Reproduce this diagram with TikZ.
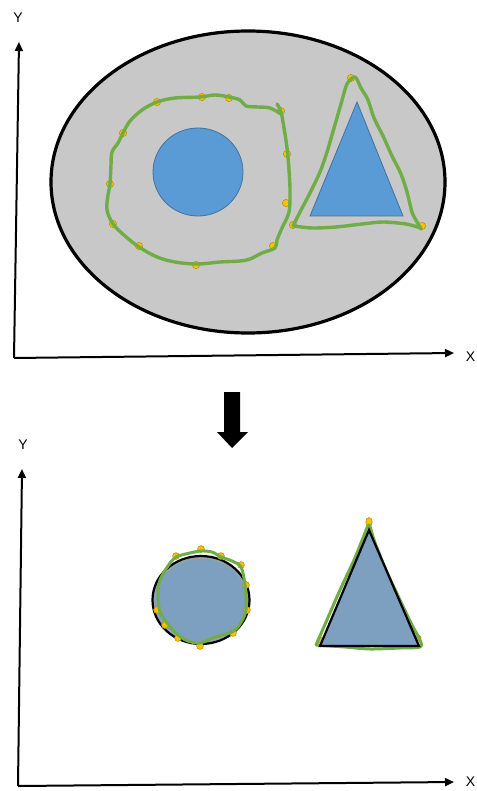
\documentclass[tikz,border=0pt]{standalone}
\usepackage{fontspec}
\setmainfont{Liberation Sans}
\usetikzlibrary{arrows.meta}
\definecolor{grayfill}{RGB}{200,200,200}
\definecolor{bluefill}{RGB}{91,155,213}
\definecolor{blueedge}{RGB}{65,113,156}
\definecolor{steel}{RGB}{125,160,192}
\definecolor{greenline}{RGB}{112,173,71}
\definecolor{dotfill}{RGB}{255,192,0}
\definecolor{dotedge}{RGB}{191,144,0}
\tikzset{
  axis/.style={line width=2pt,-{Triangle[length=9pt,width=8pt]}},
  axlabel/.style={font=\fontsize{14}{15}\selectfont,inner sep=0pt},
  wobble/.style={greenline,line width=3.4pt,line join=round,line cap=round},
  dot/.style={fill=dotfill,draw=dotedge,line width=0.6pt},
}
\begin{document}
\begin{tikzpicture}[x=1pt,y=-1pt]
\useasboundingbox (0,0) rectangle (476,791);
% ---------- top panel ----------
\coordinate (o1) at (14,358);
\coordinate (yt1) at (19,42);
\coordinate (xt1) at (454,353);
\draw[axis] (o1) -- (yt1);
\draw[axis] (o1) -- (xt1);
\node[axlabel] (Y1) at (18,18) {Y};
\node[axlabel,anchor=east] (X1) at (475.5,357) {X};
\draw[fill=grayfill,line width=3.2pt] (248,182) ellipse [x radius=197, y radius=151];
\draw[fill=bluefill,draw=blueedge,line width=0.8pt] (198,172) ellipse [x radius=45, y radius=44];
\draw[fill=bluefill,draw=blueedge,line width=0.8pt] (357,102) -- (403,216) -- (310,216) -- cycle;
% dots top circle loop
\foreach \p in {(157,102),(202,97),(229,98),(281,111),(287,154),(286,203),(273,246),(196,265),(139,246),(113,224),(110,184),(123,133)}
  \draw[dot] \p circle (3.6);
\foreach \p in {(351,78),(422,226),(293,225)}
  \draw[dot] \p circle (3.6);
\draw[wobble] plot[smooth, tension=0.55] coordinates {
 (277,104) (281,112) (284,128) (287,148) (289,170) (290,190) (289,212)
 (282,228) (277,240) (275,248) (262,253) (250,259) (240,261) (220,262)
 (197,264) (175,262) (157,257) (139,247) (125,236) (113,224) (107,210)
 (108,195) (110,184) (111,165) (112,152) (118,143) (123,133) (130,121)
 (142,110) (157,102) (175,98) (200,97) (215,95) (229,97) (240,100)
 (246,106) (258,107) (270,108) (281,114)};
\draw[wobble] plot[smooth, tension=0.5] coordinates {
 (293,226) (300,212) (310,193) (320,172) (327,152) (334,128) (341,104)
 (347,84) (355,77) (361,88) (368,100) (374,118) (383,136) (392,156)
 (401,174) (407,192) (412,212) (417,222) (421,229)};
\draw[wobble] plot[smooth, tension=0.5] coordinates {
 (421,228) (406,224) (383,222) (362,224) (336,227) (312,228) (294,226)};
% ---------- arrow ----------
\fill (224,392) -- (240,392) -- (240,432) -- (248,432) -- (232,448) -- (217,432) -- (224,432) -- cycle;
% ---------- bottom panel ----------
\coordinate (o2) at (18,786);
\coordinate (yt2) at (22,469);
\coordinate (xt2) at (454,782);
\draw[axis] (o2) -- (yt2);
\draw[axis] (o2) -- (xt2);
\node[axlabel] (Y2) at (23,445) {Y};
\node[axlabel,anchor=east] (X2) at (475.5,782) {X};
% circle
\draw[fill=steel,draw=black,line width=2.2pt] (201,600) ellipse [x radius=48.5, y radius=44];
\draw[draw=grayfill!80!black,line width=1pt] (201,600) ellipse [x radius=46.2, y radius=41.8];
\foreach \p in {(176,556),(201,549),(221,556),(241,565),(246,585),(247,610),(233,633),(200,646),(178,638),(165,625),(157,610)}
  \draw[dot] \p circle (3.4);
\draw[wobble,line width=3pt] plot[smooth cycle, tension=0.5] coordinates {
 (176,557) (190,553) (201,551) (212,552) (221,557) (232,561) (241,567)
 (245,585) (246,610) (240,624) (232,632) (215,637) (200,643) (188,641)
 (178,635) (168,624) (160,612) (158,595) (160,580) (168,566)};
% triangle
\draw[dot] (369,522) ellipse [x radius=3.2, y radius=4.5];
\draw[dot] (320,640) circle (3);
\draw[dot] (418,638) circle (3);
\fill[greenline!70!steel] (318,646) -- (330,637) -- (360,646) -- cycle;
\draw[wobble,line width=3pt] plot[smooth, tension=0.5] coordinates {
 (316,645) (326,622) (340,590) (354,560) (363,538) (369,525) (374,540)
 (386,570) (400,600) (412,625) (420,640) (420,647) (400,648) (370,649)
 (345,647) (316,645)};
\draw[fill=steel,draw=black,line width=2.2pt,line join=miter] (369,530) -- (419,646) -- (320,646) -- cycle;
\end{tikzpicture}
\end{document}
